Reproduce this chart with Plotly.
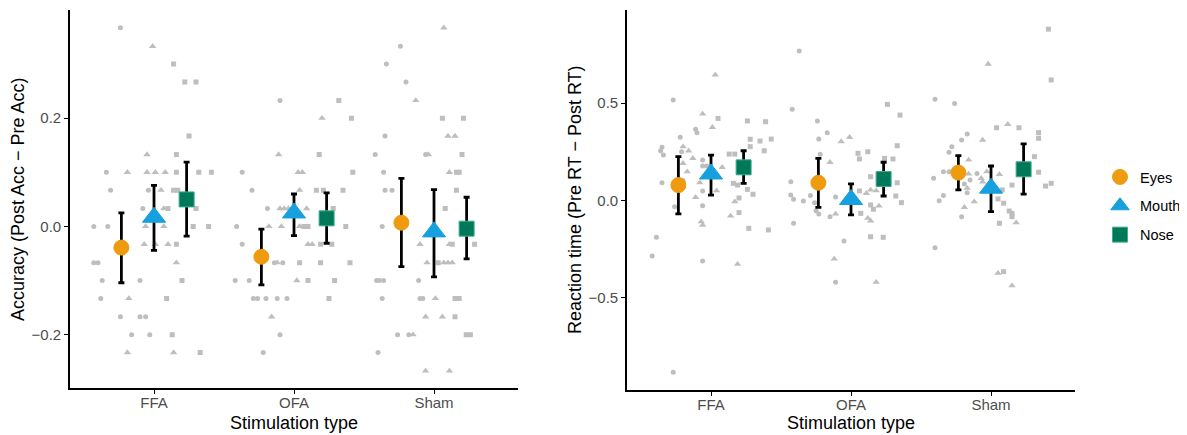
import plotly.graph_objects as go

# ---------------- data ----------------
stim_types = ["FFA", "OFA", "Sham"]
regions = ["Eyes", "Mouth", "Nose"]

# Accuracy panel: individual points (values) and horizontal jitter (category units)
acc_ffa_eyes = [0.367, 0.100, 0.067, 0.067, 0.033, 0.0, 0.0, -0.067, -0.067, -0.100, -0.100, -0.133, -0.167, -0.167, -0.167, -0.200, -0.200]
acc_ffa_eyes_jit = [-0.24, -0.34, -0.31, -0.04, -0.08, -0.43, -0.33, -0.43, -0.40, -0.37, -0.10, -0.38, -0.24, -0.10, -0.06, -0.16, -0.03]
acc_ffa_mouth = [0.333, 0.133, 0.100, 0.100, 0.100, 0.100, 0.067, 0.033, 0.0, 0.0, -0.033, -0.033, -0.033, -0.067, -0.133, -0.233, -0.233]
acc_ffa_mouth_jit = [-0.01, -0.05, -0.19, -0.05, 0.01, 0.08, 0.05, 0.07, -0.06, 0.07, -0.07, 0.01, 0.10, 0.16, -0.18, -0.19, 0.14]
acc_ffa_nose = [0.300, 0.267, 0.267, 0.167, 0.133, 0.100, 0.100, 0.100, 0.067, 0.067, 0.033, 0.033, 0.0, 0.0, -0.033, -0.100, -0.133, -0.200, -0.233]
acc_ffa_nose_jit = [0.14, 0.22, 0.30, 0.25, 0.16, 0.16, 0.32, 0.41, 0.14, 0.17, 0.10, 0.30, 0.28, 0.39, 0.16, 0.20, 0.09, 0.13, 0.33]

acc_ofa_eyes = [0.233, 0.100, 0.067, 0.033, 0.0, -0.033, -0.067, -0.067, -0.100, -0.100, -0.133, -0.133, -0.133, -0.133, -0.133, -0.200, -0.233]
acc_ofa_eyes_jit = [-0.10, -0.37, -0.30, -0.19, -0.41, -0.37, -0.14, -0.08, -0.42, -0.32, -0.29, -0.26, -0.20, -0.12, -0.05, -0.10, -0.22]
acc_ofa_mouth = [0.200, 0.133, 0.100, 0.100, 0.067, 0.033, 0.033, 0.033, 0.033, 0.0, 0.0, 0.0, -0.033, -0.033, -0.067, -0.100, -0.167]
acc_ofa_mouth_jit = [0.20, -0.11, 0.03, 0.06, 0.04, -0.10, -0.07, -0.04, 0.09, -0.18, -0.09, 0.04, 0.10, 0.13, -0.12, 0.02, -0.16]
acc_ofa_nose = [0.233, 0.200, 0.133, 0.100, 0.067, 0.067, 0.067, 0.033, 0.0, 0.0, 0.0, -0.033, -0.033, -0.067, -0.067, -0.067, -0.100, -0.100, -0.133]
acc_ofa_nose_jit = [0.32, 0.41, 0.18, 0.42, 0.16, 0.21, 0.35, 0.28, 0.07, 0.10, 0.37, 0.19, 0.27, 0.04, 0.19, 0.40, 0.10, 0.29, 0.25]

acc_sham_eyes = [0.333, 0.300, 0.267, 0.167, 0.133, 0.133, 0.100, 0.067, 0.067, 0.0, -0.100, -0.100, -0.100, -0.100, -0.133, -0.133, -0.133, -0.200, -0.200, -0.233]
acc_sham_eyes_jit = [-0.24, -0.34, -0.20, -0.35, -0.42, -0.06, -0.36, -0.35, -0.30, -0.37, -0.41, -0.39, -0.36, -0.11, -0.37, -0.10, -0.08, -0.26, -0.18, -0.40]
acc_sham_mouth = [0.367, 0.233, 0.167, 0.167, 0.133, 0.100, -0.033, -0.033, -0.067, -0.067, -0.067, -0.067, -0.133, -0.167, -0.167, -0.200, -0.267, -0.267]
acc_sham_mouth_jit = [0.07, -0.13, 0.10, 0.15, -0.04, 0.11, -0.10, 0.11, -0.05, 0.07, 0.10, 0.13, 0.01, -0.06, 0.06, -0.15, -0.06, 0.11]
acc_sham_nose = [0.200, 0.200, 0.133, 0.100, 0.100, 0.067, 0.033, -0.033, -0.033, -0.067, -0.133, -0.133, -0.167, -0.200, -0.200]
acc_sham_nose_jit = [0.06, 0.21, 0.20, 0.16, 0.18, 0.16, 0.08, 0.13, 0.29, 0.03, 0.15, 0.18, 0.15, 0.23, 0.26]

# Accuracy summaries (mean, lower, upper) per stimulation type
acc_eyes_mean = [-0.039, -0.056, 0.007]
acc_eyes_lo = [-0.104, -0.108, -0.074]
acc_eyes_hi = [0.025, -0.005, 0.089]
acc_mouth_mean = [0.017, 0.025, -0.010]
acc_mouth_lo = [-0.044, -0.017, -0.093]
acc_mouth_hi = [0.076, 0.060, 0.068]
acc_nose_mean = [0.050, 0.015, -0.004]
acc_nose_lo = [-0.018, -0.031, -0.060]
acc_nose_hi = [0.119, 0.062, 0.054]

# Reaction-time panel
rt_ffa_eyes = [0.515, 0.365, 0.348, 0.324, 0.273, 0.255, 0.233, 0.250, 0.208, 0.177, 0.177, 0.091, 0.102, 0.049, -0.032, -0.027, -0.189, -0.285, -0.310, -0.881]
rt_ffa_eyes_jit = [-0.27, -0.11, -0.10, -0.22, -0.35, -0.36, -0.34, -0.21, -0.06, -0.06, -0.03, -0.35, -0.20, -0.06, -0.26, -0.06, -0.39, -0.42, -0.06, -0.27]
rt_ffa_mouth = [0.644, 0.444, 0.375, 0.276, 0.255, 0.216, 0.191, 0.148, 0.170, 0.091, 0.050, 0.016, -0.006, -0.079, -0.109, -0.126, -0.327]
rt_ffa_mouth_jit = [0.03, -0.06, 0.01, -0.20, -0.16, -0.13, -0.20, -0.17, 0.08, -0.08, 0.04, -0.11, 0.17, 0.14, -0.07, -0.06, 0.19]
rt_ffa_nose = [0.421, 0.408, 0.404, 0.314, 0.305, 0.315, 0.276, 0.255, 0.238, 0.238, 0.088, 0.079, 0.057, 0.032, 0.013, -0.062, -0.143, -0.151]
rt_ffa_nose_jit = [0.05, 0.26, 0.39, 0.28, 0.35, 0.43, 0.28, 0.38, 0.13, 0.17, 0.16, 0.19, 0.26, 0.30, 0.20, 0.20, 0.27, 0.41]

rt_ofa_eyes = [0.767, 0.468, 0.408, 0.348, 0.315, 0.237, 0.096, 0.028, 0.006, -0.003, 0.025, -0.011, 0.018, -0.052, -0.069, -0.083, -0.117, -0.208, -0.419]
rt_ofa_eyes_jit = [-0.37, -0.42, -0.24, -0.17, -0.23, -0.22, -0.43, -0.43, -0.41, -0.34, -0.29, -0.26, -0.11, -0.25, -0.23, -0.15, -0.41, -0.05, -0.11]
rt_ofa_mouth = [0.302, 0.324, 0.196, 0.037, 0.054, 0.050, -0.028, -0.069, -0.091, -0.104, -0.300, -0.419]
rt_ofa_mouth_jit = [-0.07, -0.01, -0.15, 0.11, 0.14, 0.18, 0.20, -0.11, 0.12, 0.14, -0.12, 0.18]
rt_ofa_nose = [0.493, 0.438, 0.281, 0.242, 0.250, 0.213, 0.216, 0.213, 0.122, 0.091, 0.049, 0.023, -0.011, -0.023, -0.045, -0.066, -0.186, -0.189]
rt_ofa_nose_jit = [0.26, 0.35, 0.33, 0.05, 0.12, 0.06, 0.24, 0.30, 0.14, 0.33, 0.06, 0.32, 0.36, 0.14, 0.16, 0.07, 0.14, 0.23]

rt_sham_eyes = [0.519, 0.498, 0.341, 0.310, 0.276, 0.247, 0.148, 0.148, 0.114, 0.139, 0.105, 0.085, 0.040, 0.025, -0.001, -0.083, -0.242]
rt_sham_eyes_jit = [-0.40, -0.26, -0.17, -0.21, -0.28, -0.30, -0.34, -0.30, -0.41, -0.10, -0.15, -0.19, -0.17, -0.34, -0.37, -0.21, -0.40]
rt_sham_mouth = [0.700, 0.391, 0.310, 0.208, 0.136, 0.148, 0.134, 0.114, 0.096, 0.063, -0.006, -0.035, -0.114, -0.373, -0.437]
rt_sham_mouth_jit = [-0.02, 0.12, -0.06, -0.16, -0.16, -0.03, 0.06, -0.07, -0.06, -0.17, -0.12, -0.19, 0.18, 0.05, 0.15]
rt_sham_nose = [0.879, 0.618, 0.373, 0.373, 0.348, 0.319, 0.225, 0.145, 0.079, 0.074, 0.088, 0.054, 0.008, -0.014, -0.054, -0.066, -0.083, -0.117, -0.365]
rt_sham_nose_jit = [0.41, 0.43, 0.04, 0.20, 0.34, 0.34, 0.31, 0.34, 0.15, 0.39, 0.43, 0.08, 0.05, 0.09, 0.13, 0.15, 0.15, 0.06, 0.09]

rt_eyes_mean = [0.079, 0.091, 0.143]
rt_eyes_lo = [-0.069, -0.035, 0.054]
rt_eyes_hi = [0.225, 0.216, 0.230]
rt_mouth_mean = [0.136, 0.005, 0.063]
rt_mouth_lo = [0.028, -0.074, -0.057]
rt_mouth_hi = [0.233, 0.085, 0.177]
rt_nose_mean = [0.170, 0.110, 0.160]
rt_nose_lo = [0.088, 0.023, 0.033]
rt_nose_hi = [0.255, 0.196, 0.290]

acc_tickvals = [-0.2, 0.0, 0.2]
acc_ticktext = ["\u22120.2", "0.0", "0.2"]
rt_tickvals = [-0.5, 0.0, 0.5]
rt_ticktext = ["\u22120.5", "0.0", "0.5"]

# ---------------- style ----------------
FONT = "Liberation Sans, Arial, sans-serif"
GRAY = "#BEBEBE"
dodge = {"Eyes": -0.233, "Mouth": 0.0, "Nose": 0.233}
colors = {"Eyes": "#EF9B0F", "Mouth": "#16A0DE", "Nose": "#00795A"}
edge = {"Eyes": "#EF9B0F", "Mouth": "#16A0DE", "Nose": "#3DAE8C"}
sum_sym = {"Eyes": "circle", "Mouth": "triangle-up", "Nose": "square"}
sum_size = {"Eyes": 15, "Mouth": 20, "Nose": 15}
pt_size = {"Eyes": 5, "Mouth": 6.5, "Nose": 5}

acc_points = {
    "Eyes": [(acc_ffa_eyes, acc_ffa_eyes_jit), (acc_ofa_eyes, acc_ofa_eyes_jit), (acc_sham_eyes, acc_sham_eyes_jit)],
    "Mouth": [(acc_ffa_mouth, acc_ffa_mouth_jit), (acc_ofa_mouth, acc_ofa_mouth_jit), (acc_sham_mouth, acc_sham_mouth_jit)],
    "Nose": [(acc_ffa_nose, acc_ffa_nose_jit), (acc_ofa_nose, acc_ofa_nose_jit), (acc_sham_nose, acc_sham_nose_jit)],
}
rt_points = {
    "Eyes": [(rt_ffa_eyes, rt_ffa_eyes_jit), (rt_ofa_eyes, rt_ofa_eyes_jit), (rt_sham_eyes, rt_sham_eyes_jit)],
    "Mouth": [(rt_ffa_mouth, rt_ffa_mouth_jit), (rt_ofa_mouth, rt_ofa_mouth_jit), (rt_sham_mouth, rt_sham_mouth_jit)],
    "Nose": [(rt_ffa_nose, rt_ffa_nose_jit), (rt_ofa_nose, rt_ofa_nose_jit), (rt_sham_nose, rt_sham_nose_jit)],
}
acc_summary = {
    "Eyes": (acc_eyes_mean, acc_eyes_lo, acc_eyes_hi),
    "Mouth": (acc_mouth_mean, acc_mouth_lo, acc_mouth_hi),
    "Nose": (acc_nose_mean, acc_nose_lo, acc_nose_hi),
}
rt_summary = {
    "Eyes": (rt_eyes_mean, rt_eyes_lo, rt_eyes_hi),
    "Mouth": (rt_mouth_mean, rt_mouth_lo, rt_mouth_hi),
    "Nose": (rt_nose_mean, rt_nose_lo, rt_nose_hi),
}

fig = go.Figure()


def add_panel(points, summary, xa, ya, legend):
    # jittered raw points
    for reg in regions:
        xs, ys = [], []
        for ci, (vals, jit) in enumerate(points[reg]):
            xs += [ci + 1 + j for j in jit]
            ys += vals
        fig.add_trace(go.Scatter(
            x=xs, y=ys, mode="markers", xaxis=xa, yaxis=ya, showlegend=False,
            hoverinfo="skip",
            marker=dict(symbol=sum_sym[reg], size=pt_size[reg], color=GRAY, line=dict(width=0)),
        ))
    # summaries with error bars
    for reg in regions:
        mean, lo, hi = summary[reg]
        fig.add_trace(go.Scatter(
            x=[i + 1 + dodge[reg] for i in range(len(stim_types))], y=mean,
            mode="markers", xaxis=xa, yaxis=ya, name=reg,
            showlegend=legend, legendgroup=reg,
            marker=dict(symbol=sum_sym[reg], size=sum_size[reg], color=colors[reg],
                        line=dict(color=edge[reg], width=1)),
            error_y=dict(type="data", symmetric=False,
                         array=[h - m for h, m in zip(hi, mean)],
                         arrayminus=[m - l for m, l in zip(mean, lo)],
                         color="black", thickness=2.8, width=3),
        ))


add_panel(acc_points, acc_summary, "x", "y", True)
add_panel(rt_points, rt_summary, "x2", "y2", False)

# The page body has an 8px margin, so the figure is sized/positioned to fill the rest.
W, H = 1179, 427
axis_common = dict(showline=True, linecolor="black", linewidth=1.6, ticks="outside",
                   ticklen=4, tickwidth=1.3, tickcolor="black", showgrid=False,
                   zeroline=False, tickfont=dict(family=FONT, size=15, color="#4D4D4D"))
xaxis_extra = dict(ticklabelstandoff=-4)
title_font = dict(family=FONT, size=18, color="black")

fig.update_layout(
    width=W, height=H, margin=dict(l=0, r=0, t=0, b=0),
    paper_bgcolor="white", plot_bgcolor="white",
    font=dict(family=FONT),
    xaxis=dict(domain=[62 / W, 510 / W], range=[0.4, 3.6], tickvals=[1, 2, 3],
               ticktext=stim_types, anchor="y", **axis_common, **xaxis_extra),
    yaxis=dict(domain=[1 - 380.3 / H, 1 - 2 / H], range=[-0.299, 0.400],
               tickvals=acc_tickvals, ticktext=acc_ticktext, anchor="x", **axis_common),
    xaxis2=dict(domain=[619 / W, 1067 / W], range=[0.4, 3.6], tickvals=[1, 2, 3],
                ticktext=stim_types, anchor="y2", **axis_common, **xaxis_extra),
    yaxis2=dict(domain=[1 - 382 / H, 1 - 2 / H], range=[-0.972, 0.977],
                tickvals=rt_tickvals, ticktext=rt_ticktext, anchor="x2", **axis_common),
    legend=dict(x=1092 / W, y=1 - 153 / H, xanchor="left", yanchor="top",
                font=dict(family=FONT, size=14.5, color="black"),
                tracegroupgap=7, itemsizing="trace", bgcolor="rgba(0,0,0,0)"),
    annotations=[
        dict(text="Accuracy (Post Acc \u2212 Pre Acc)", x=10 / W, y=1 - 191 / H, xref="paper",
             yref="paper", textangle=-90, showarrow=False, xanchor="center", yanchor="middle",
             font=title_font),
        dict(text="Reaction time (Pre RT \u2212 Post RT)", x=567 / W, y=1 - 192 / H, xref="paper",
             yref="paper", textangle=-90, showarrow=False, xanchor="center", yanchor="middle",
             font=title_font),
        dict(text="Stimulation type", x=286 / W, y=1 - 415 / H, xref="paper", yref="paper",
             showarrow=False, xanchor="center", yanchor="middle", font=title_font),
        dict(text="Stimulation type", x=843 / W, y=1 - 415 / H, xref="paper", yref="paper",
             showarrow=False, xanchor="center", yanchor="middle", font=title_font),
    ],
)

fig.write_html("out.html")
